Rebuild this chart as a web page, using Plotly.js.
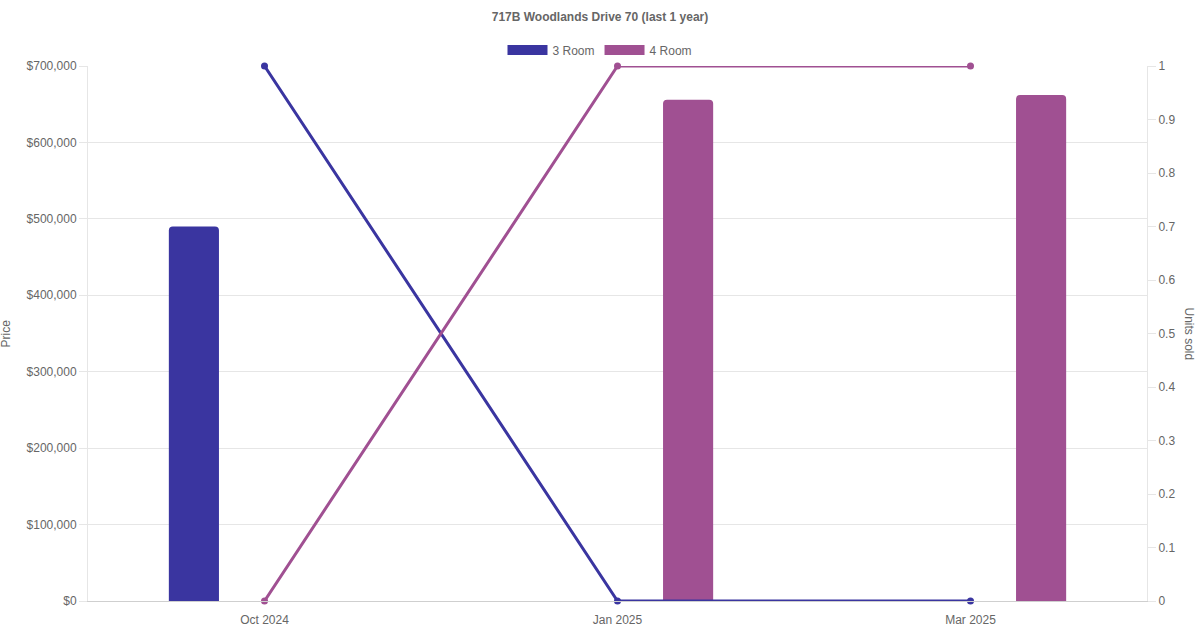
<!DOCTYPE html>
<html>
<head>
<meta charset="utf-8">
<script src="https://cdn.plot.ly/plotly-3.0.1.min.js"></script>
<style>html,body{margin:0;padding:0;background:#fff;}#chart{width:1200px;height:630px;}</style>
</head>
<body>
<div id="chart"></div>
<script>
const categories = ['Oct 2024', 'Jan 2025', 'Mar 2025'];
const seriesNames = ['3 Room', '4 Room'];
const price3Room = [490000, 0, 0];
const price4Room = [0, 656000, 662000];
const units3Room = [1, 0, 0];
const units4Room = [0, 1, 1];
const colors = ['#3a35a0', '#a05092'];

const font = 'Liberation Sans, Arial, Helvetica, sans-serif';
const grid = '#e6e6e6';
const barW = 0.142;

const traces = [
  {type:'bar', x:categories, y:price3Room, name:seriesNames[0], yaxis:'y', showlegend:false,
   width:barW, offset:-0.2 - barW/2, marker:{color:colors[0], cornerradius:4}, hoverinfo:'skip'},
  {type:'bar', x:categories, y:price4Room, name:seriesNames[1], yaxis:'y', showlegend:false,
   width:barW, offset:0.2 - barW/2, marker:{color:colors[1], cornerradius:4}, hoverinfo:'skip'},
  {type:'scatter', mode:'lines+markers', x:categories, y:units3Room, yaxis:'y2', showlegend:false, cliponaxis:false,
   line:{color:colors[0], width:3}, marker:{color:colors[0], size:7}},
  {type:'scatter', mode:'lines+markers', x:categories, y:units4Room, yaxis:'y2', showlegend:false, cliponaxis:false,
   line:{color:colors[1], width:3}, marker:{color:colors[1], size:7}},
  {type:'scatter', mode:'lines', x:[null], y:[null], name:seriesNames[0], yaxis:'y2',
   line:{color:colors[0], width:12}},
  {type:'scatter', mode:'lines', x:[null], y:[null], name:seriesNames[1], yaxis:'y2',
   line:{color:colors[1], width:12}}
];

const layout = {
  width:1200, height:630,
  margin:{l:88, r:53, t:66, b:29, pad:0},
  paper_bgcolor:'#fff', plot_bgcolor:'#fff',
  font:{family:font, size:12, color:'#666'},
  barmode:'overlay',
  title:{text:'<b>717B Woodlands Drive 70 (last 1 year)</b>', x:0.5, xanchor:'center',
         yref:'container', y:1 - 17/630, yanchor:'middle', font:{family:font, size:12, color:'#666'}},
  showlegend:true,
  legend:{orientation:'h', x:0.5, xanchor:'center', xref:'container', yref:'container', y:1 - 50/630, yanchor:'middle',
          font:{family:font, size:12, color:'#666'}, itemwidth:40, bgcolor:'rgba(0,0,0,0)', tracegroupgap:0},
  xaxis:{type:'category', range:[-0.5, 2.5], showgrid:false, showline:true, linecolor:'#cfcfcf', linewidth:1,
         ticks:'', ticklabelstandoff:8, tickfont:{family:font, size:12, color:'#666'}, fixedrange:true, zeroline:false},
  yaxis:{range:[0, 700000], dtick:100000, tickprefix:'$', tickformat:',.0f', showgrid:true, gridcolor:grid,
         showline:true, linecolor:grid, ticks:'outside', ticklen:8, tickcolor:grid, zeroline:false,
         tickfont:{family:font, size:12, color:'#666'}},
  yaxis2:{range:[0, 1], dtick:0.1, overlaying:'y', side:'right', showgrid:false, showline:true, linecolor:grid,
          ticks:'outside', ticklen:8, tickcolor:grid, zeroline:false, tickfont:{family:font, size:12, color:'#666'}},
  annotations:[
    {text:'Price', xref:'paper', yref:'paper', x:-83/1059, y:0.5, xanchor:'center', yanchor:'middle',
     textangle:-90, showarrow:false, font:{family:font, size:12, color:'#666'}},
    {text:'Units sold', xref:'paper', yref:'paper', x:1 + 42/1059, y:0.5, xanchor:'center', yanchor:'middle',
     textangle:90, showarrow:false, font:{family:font, size:12, color:'#666'}}
  ]
};

Plotly.newPlot('chart', traces, layout, {displayModeBar:false, staticPlot:true});
</script>
</body>
</html>
